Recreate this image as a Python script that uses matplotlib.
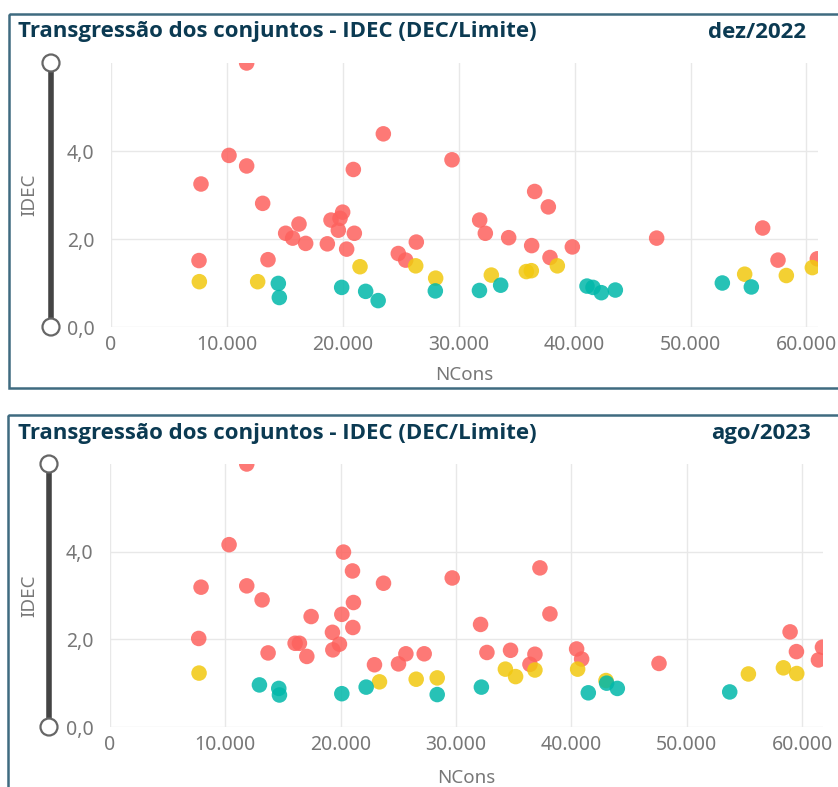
import numpy as np
import matplotlib
matplotlib.use("Agg")
import matplotlib.pyplot as plt
from matplotlib.patches import Rectangle, Circle

plt.rcParams['font.family'] = ['Noto Sans', 'DejaVu Sans']

W, H = 838, 787

title = "Transgressão dos conjuntos - IDEC (DEC/Limite)"
x_ticks = [0, 10000, 20000, 30000, 40000, 50000, 60000]
x_ticklabels = ["0", "10.000", "20.000", "30.000", "40.000", "50.000", "60.000"]
y_ticks = [0, 2, 4]
y_ticklabels = ["0,0", "2,0", "4,0"]

# dez/2022
dez_red_x = [11705, 23497, 10181, 11705, 20909, 7765, 13086, 16221, 18982, 19988,
             19758, 19614, 20995, 15070, 15674, 16796, 18665, 20333, 26343, 24789,
             25425, 7593, 13546, 29421, 36553, 37733, 31809, 32297, 34311, 36295,
             37877, 39804, 47080, 56226, 57549, 60943]
dez_red_y = [6.0, 4.39, 3.90, 3.66, 3.58, 3.25, 2.81, 2.34, 2.43, 2.61,
             2.47, 2.20, 2.13, 2.13, 2.02, 1.90, 1.89, 1.77, 1.93, 1.67,
             1.52, 1.51, 1.53, 3.80, 3.08, 2.73, 2.43, 2.13, 2.03, 1.85,
             1.58, 1.82, 2.02, 2.25, 1.52, 1.55]
dez_yel_x = [7622, 12654, 21484, 26290, 28012, 32815, 35835, 36266, 38509, 54673, 58268, 60511]
dez_yel_y = [1.03, 1.03, 1.37, 1.39, 1.11, 1.18, 1.26, 1.28, 1.39, 1.20, 1.17, 1.35]
dez_teal_x = [14437, 14524, 19902, 21973, 23050, 27983, 31790, 33620, 41069, 41587,
              42306, 43514, 52746, 55248]
dez_teal_y = [0.99, 0.67, 0.90, 0.81, 0.60, 0.82, 0.83, 0.95, 0.93, 0.90,
              0.78, 0.84, 1.00, 0.91]

# ago/2023
ago_red_x = [11853, 10321, 20237, 21018, 23706, 7892, 11853, 13183, 21101, 17433,
             20093, 21048, 19280, 7690, 16045, 16418, 19887, 19315, 17059, 13703,
             22924, 25005, 25646, 27233, 29662, 32119, 32670, 34717, 37265, 38132,
             36831, 36400, 40445, 40879, 47586, 58947, 59497, 61405, 61752]
ago_red_y = [6.0, 4.16, 3.99, 3.56, 3.28, 3.19, 3.22, 2.90, 2.84, 2.52,
             2.57, 2.27, 2.16, 2.02, 1.91, 1.91, 1.89, 1.76, 1.61, 1.69,
             1.42, 1.44, 1.67, 1.67, 3.40, 2.34, 1.70, 1.75, 3.63, 2.58,
             1.66, 1.43, 1.78, 1.55, 1.45, 2.17, 1.72, 1.53, 1.82]
ago_yel_x = [7719, 23357, 26539, 28361, 34270, 35155, 36831, 40532, 42989, 55334, 58369, 59526]
ago_yel_y = [1.23, 1.03, 1.09, 1.12, 1.32, 1.15, 1.30, 1.32, 1.06, 1.21, 1.35, 1.22]
ago_teal_x = [12952, 14628, 14686, 20093, 22203, 28361, 32190, 41457, 43047, 43972, 53715]
ago_teal_y = [0.96, 0.88, 0.73, 0.76, 0.91, 0.74, 0.91, 0.78, 1.00, 0.88, 0.80]

RED, YEL, TEAL = "#FD625E", "#F2C80F", "#01B8AA"
GREY = "#777777"
NAVY = "#0B3A52"
BORDER = "#3F6B80"
TITLE_FONT = ['Open Sans', 'DejaVu Sans']

fig = plt.figure(figsize=(W / 100, H / 100), dpi=100)

# overlay in pixel coords for frames, slider, labels
ov = fig.add_axes([0, 0, 1, 1], zorder=0)
ov.set_xlim(0, W)
ov.set_ylim(H, 0)
ov.axis("off")


def panel(box, ax_px, xmax, date, slider_x, label_y, red, yel, teal):
    # box = (left, top, bottom) of frame in px; ax_px = (left, top, right, bottom)
    bl, bt, bb = box
    ov.add_patch(Rectangle((bl, bt), W + 10 - bl, bb - bt, fill=False,
                           edgecolor=BORDER, lw=1.8))
    l, t, r, b = ax_px
    ov.text(18, bt + 18, title, fontsize=16, fontweight="bold", color=NAVY,
            va="center", ha="left", family=TITLE_FONT)
    ov.text(r - 12, bt + 18, date, fontsize=16, fontweight="bold", color=NAVY,
            va="center", ha="right", family=TITLE_FONT)
    # slider
    ov.plot([slider_x, slider_x], [t, b], color="#444444", lw=4, solid_capstyle="butt")
    for yy in (t, b):
        ov.add_patch(Circle((slider_x, yy), 8.5, facecolor="white",
                            edgecolor="#666666", lw=1.6, zorder=3))
    ov.text(29, (t + b) / 2, "IDEC", rotation=90, fontsize=13.5, color=GREY,
            va="center", ha="center")
    ov.text((l + r) / 2, label_y, "NCons", fontsize=13.5, color=GREY,
            va="center", ha="center")

    ax = fig.add_axes([l / W, 1 - b / H, (r - l) / W, (b - t) / H], zorder=1)
    ax.set_facecolor("none")
    ax.scatter(red[0], red[1], s=125, color=RED, alpha=0.85, edgecolors="none", zorder=3)
    ax.scatter(yel[0], yel[1], s=125, color=YEL, alpha=0.85, edgecolors="none", zorder=3)
    ax.scatter(teal[0], teal[1], s=125, color=TEAL, alpha=0.85, edgecolors="none", zorder=3)
    ax.set_xlim(0, xmax)
    ax.set_ylim(0, 6.0)
    ax.set_xticks(x_ticks)
    ax.set_xticklabels(x_ticklabels)
    ax.set_yticks(y_ticks)
    ax.set_yticklabels(y_ticklabels)
    ax.tick_params(length=0, colors=GREY, labelsize=14, pad=6)
    ax.tick_params(axis="y", pad=12)
    for s in ax.spines.values():
        s.set_visible(False)
    ax.grid(True, color="#e8e8e8", lw=1)
    ax.set_axisbelow(True)
    return ax


panel((9, 14, 388), (111, 63, 818, 327), 61000, "dez/2022", 51, 375,
      (dez_red_x, dez_red_y), (dez_yel_x, dez_yel_y), (dez_teal_x, dez_teal_y))
panel((8, 415, H + 10), (110, 464, 823, 727), 61800, "ago/2023", 49, 778,
      (ago_red_x, ago_red_y), (ago_yel_x, ago_yel_y), (ago_teal_x, ago_teal_y))

fig.savefig("out.png", dpi=100)
